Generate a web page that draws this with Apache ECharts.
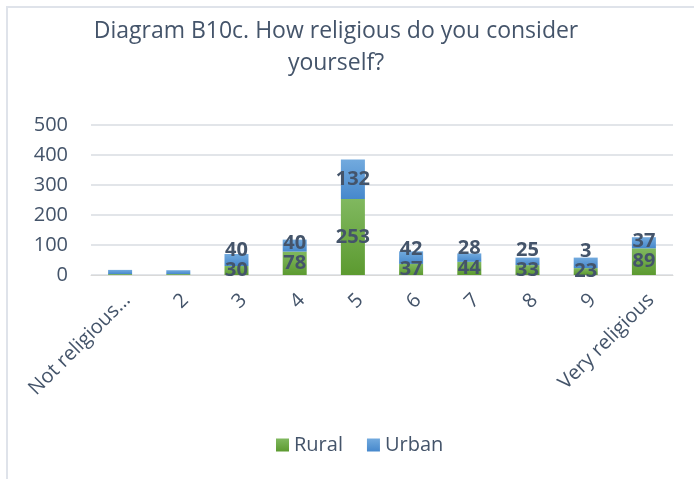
<!DOCTYPE html>
<html>
<head>
<meta charset="utf-8">
<script src="https://cdn.jsdelivr.net/npm/echarts@6/dist/echarts.min.js"></script>
<style>
html,body{margin:0;padding:0;background:#fff;}
#chart{width:694px;height:479px;}
</style>
</head>
<body>
<div id="chart"></div>
<script>
var categories = ['Not religious…', '2', '3', '4', '5', '6', '7', '8', '9', 'Very religious'];
var rural = [3, 3, 30, 78, 253, 37, 44, 33, 23, 89];
var urban = [14, 13, 40, 40, 132, 42, 28, 25, 35, 37];
var ruralLabels = ['', '', '30', '78', '253', '37', '44', '33', '23', '89'];
var urbanLabels = ['', '', '40', '40', '132', '42', '28', '25', '3', '37'];
var yTicks = [0, 100, 200, 300, 400, 500];

var FONT = '"Open Sans", sans-serif';
var TEXT = '#44546a';

function grad(top, bottom) {
  return new echarts.graphic.LinearGradient(0, 0, 0, 1, [
    {offset: 0, color: top}, {offset: 1, color: bottom}
  ]);
}

var labelStyle = {
  show: true, position: 'inside',
  fontFamily: FONT, fontSize: 20, fontWeight: 'bold', color: TEXT, lineHeight: 20
};

var chart = echarts.init(document.getElementById('chart'), null, {renderer: 'canvas'});
chart.setOption({
  animation: false,
  backgroundColor: '#fff',
  textStyle: {fontFamily: FONT},
  title: {
    text: 'Diagram B10c. How religious do you consider\nyourself?',
    left: 336,
    textAlign: 'center',
    top: 15,
    padding: 0,
    textStyle: {fontFamily: FONT, fontSize: 23, fontWeight: 'normal', color: TEXT, lineHeight: 32}
  },
  graphic: [{
    type: 'rect',
    shape: {x: 7, y: 7, width: 800, height: 600},
    style: {fill: 'none', stroke: '#dfe3ea', lineWidth: 2},
    silent: true
  }],
  legend: {
    top: 430,
    left: 271,
    itemWidth: 13,
    itemHeight: 13,
    itemGap: 24,
    icon: 'rect',
    textStyle: {fontFamily: FONT, fontSize: 20, color: TEXT},
    data: ['Rural', 'Urban']
  },
  grid: {left: 91, right: 21, top: 125, bottom: 204, containLabel: false},
  xAxis: {
    type: 'category',
    data: categories,
    axisLine: {show: true, lineStyle: {color: '#d9d9d9'}},
    axisTick: {show: false},
    axisLabel: {
      interval: 0, rotate: 45, fontFamily: FONT, fontSize: 20, color: TEXT,
      margin: 15, verticalAlign: 'top'
    }
  },
  yAxis: {
    type: 'value',
    min: yTicks[0],
    max: yTicks[yTicks.length - 1],
    interval: 100,
    axisLine: {show: false},
    axisTick: {show: false},
    splitLine: {lineStyle: {color: '#d9dde2', width: 1.5}},
    axisLabel: {fontFamily: FONT, fontSize: 20, color: TEXT, margin: 23}
  },
  series: [{
    name: 'Rural',
    type: 'bar',
    stack: 'total',
    barWidth: 24,
    data: rural,
    itemStyle: {color: grad('#80b85f', '#5c9a30')},
    label: Object.assign({}, labelStyle, {
      formatter: function (p) { return ruralLabels[p.dataIndex]; }
    })
  }, {
    name: 'Urban',
    type: 'bar',
    stack: 'total',
    barWidth: 24,
    data: urban,
    itemStyle: {color: grad('#72aade', '#4688cc')},
    label: Object.assign({}, labelStyle, {
      formatter: function (p) { return urbanLabels[p.dataIndex]; }
    })
  }]
});

// Keep stacked labels from overlapping: lift the upper label when the
// two segment centres are closer than one label height.
var MIN_SEP = 20;
var urbanData = urban.map(function (v, i) {
  var yRuralMid = chart.convertToPixel({yAxisIndex: 0}, rural[i] / 2);
  var yUrbanMid = chart.convertToPixel({yAxisIndex: 0}, rural[i] + v / 2);
  var sep = yRuralMid - yUrbanMid;
  var shift = sep < MIN_SEP ? MIN_SEP - sep : 0;
  return {value: v, label: {offset: [0, -shift]}};
});
chart.setOption({series: [{}, {data: urbanData}]});
</script>
</body>
</html>
